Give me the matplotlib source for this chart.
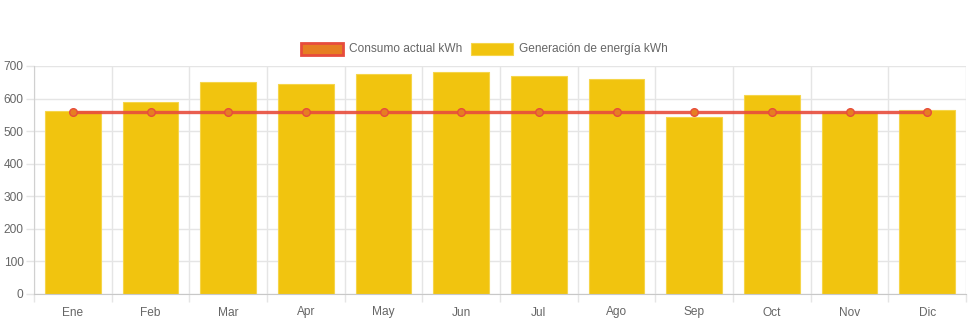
import matplotlib
matplotlib.use("Agg")
import matplotlib.pyplot as plt
from matplotlib.patches import Rectangle
import numpy as np

months = ["Ene", "Feb", "Mar", "Apr", "May", "Jun", "Jul", "Ago", "Sep", "Oct", "Nov", "Dic"]
generacion = [562, 589, 651, 645, 675, 682, 670, 660, 543, 612, 558, 566]
consumo = [560] * 12
yticks = [0, 100, 200, 300, 400, 500, 600, 700]

plt.rcParams['font.family'] = ['Liberation Sans', 'DejaVu Sans']
W, H = 971, 323
FS = 8.6
fig = plt.figure(figsize=(W / 100, H / 100), dpi=100)
ax = fig.add_axes([34 / W, 1 - 294 / H, (966 - 34) / W, (294 - 66) / H])

x = np.arange(len(months))
ax.bar(x, generacion, width=0.72, color="#f1c40f", edgecolor="#f5d54a", linewidth=0.8, zorder=2)
ax.plot(x, consumo, color="#e74c3c", linewidth=2.4, zorder=3, alpha=0.9)
ax.plot(x, consumo, linestyle="none", marker="o", markersize=5.5,
        markerfacecolor="#e67e22", markeredgecolor="#e74c3c", markeredgewidth=1, zorder=4)

ax.set_xlim(-0.5, len(months) - 0.5)
ax.set_ylim(0, 700)
ax.set_yticks(yticks)
ax.set_yticklabels([str(v) for v in yticks])
ax.set_xticks(x)
ax.set_xticklabels(months)
ax.set_xticks(np.arange(-0.5, len(months), 1), minor=True)

grid_c = "#e5e5e5"
ax.grid(axis="y", which="major", color=grid_c, linewidth=1, zorder=0)
ax.grid(axis="x", which="minor", color=grid_c, linewidth=1, zorder=0)
ax.tick_params(axis="x", which="major", length=0, pad=9, labelsize=FS, labelcolor="#666666")
ax.tick_params(axis="x", which="minor", length=6, color=grid_c, width=1)
ax.tick_params(axis="y", which="major", length=6, color=grid_c, width=1, pad=1.5, labelsize=FS, labelcolor="#666666")

for s in ["top", "right"]:
    ax.spines[s].set_visible(False)
ax.spines["left"].set_color("#d0d0d0")
ax.spines["bottom"].set_color("#c8c8c8")

# legend
def legend_item(x0, text, face, edge, lw):
    fig.patches.append(Rectangle((x0 / W, 1 - 55 / H), 42 / W, 12 / H, transform=fig.transFigure,
                                 facecolor=face, edgecolor=edge, linewidth=lw))
    fig.text((x0 + 48) / W, 1 - 49 / H, text, fontsize=FS, color="#666666", va="center", ha="left")

legend_item(301, "Consumo actual kWh", "#e67e22", "#e74c3c", 2)
legend_item(471, "Generación de energía kWh", "#f1c40f", "#f5d54a", 0.8)

fig.savefig("out.png", dpi=100)
